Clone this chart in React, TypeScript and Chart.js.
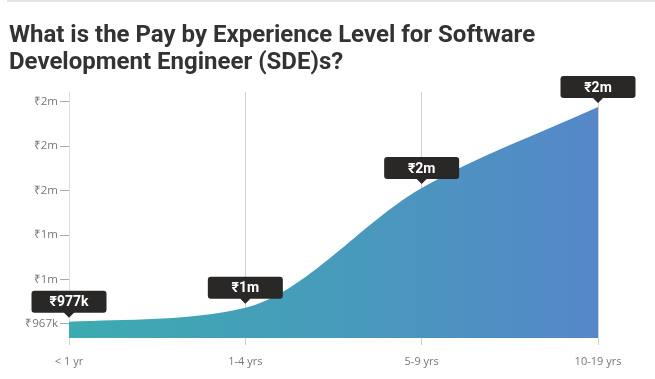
import React, { useEffect, useRef } from "react";
import { Chart, registerables } from "chart.js";

Chart.register(...registerables);

const categories = ["< 1 yr", "1-4 yrs", "5-9 yrs", "10-19 yrs"];
const pay = [977000, 1040000, 1578000, 1942000];
const pointLabels = ["₹977k", "₹1m", "₹2m", "₹2m"];
const yTickValues = [967000, 1167000, 1367000, 1567000, 1767000, 1967000];
const yTickLabels = ["₹967k", "₹1m", "₹1m", "₹2m", "₹2m", "₹2m"];
const yMin = 904000;
const yMax = 2010000;

const labelPlugin = {
  id: "pointLabels",
  afterDraw(chart: any) {
    const ctx = chart.ctx;
    const meta = chart.getDatasetMeta(0);
    ctx.save();
    meta.data.forEach((pt: any, i: number) => {
      const x = pt.x;
      const y = pt.y;
      const w = 75;
      const h = 22;
      const caret = 5;
      const bottom = y - 4 - caret;
      const top = bottom - h;
      const left = x - w / 2;
      const r = 3;
      ctx.fillStyle = "#2a2727";
      ctx.beginPath();
      ctx.moveTo(left + r, top);
      ctx.lineTo(left + w - r, top);
      ctx.quadraticCurveTo(left + w, top, left + w, top + r);
      ctx.lineTo(left + w, bottom - r);
      ctx.quadraticCurveTo(left + w, bottom, left + w - r, bottom);
      ctx.lineTo(x + caret, bottom);
      ctx.lineTo(x, bottom + caret);
      ctx.lineTo(x - caret, bottom);
      ctx.lineTo(left + r, bottom);
      ctx.quadraticCurveTo(left, bottom, left, bottom - r);
      ctx.lineTo(left, top + r);
      ctx.quadraticCurveTo(left, top, left + r, top);
      ctx.closePath();
      ctx.fill();
      ctx.fillStyle = "#ffffff";
      ctx.font = "bold 14px Roboto, 'Noto Sans', sans-serif";
      ctx.textAlign = "center";
      ctx.textBaseline = "middle";
      ctx.fillText(pointLabels[i], x, top + h / 2 + 1);
    });
    ctx.restore();
  },
};

export default function App() {
  const ref = useRef<HTMLCanvasElement>(null);
  useEffect(() => {
    const canvas = ref.current!;
    const chart = new Chart(canvas, {
      type: "line",
      data: {
        labels: categories,
        datasets: [
          {
            data: pay,
            fill: "start",
            borderWidth: 0,
            borderColor: "rgba(0,0,0,0)",
            pointRadius: 0,
            cubicInterpolationMode: "monotone",
            backgroundColor: (c: any) => {
              const area = c.chart.chartArea;
              if (!area) return "#479bbb";
              const g = c.chart.ctx.createLinearGradient(area.left, 0, area.right, 0);
              g.addColorStop(0, "#3cabb0");
              g.addColorStop(0.5, "#479bbb");
              g.addColorStop(1, "#5587c9");
              return g;
            },
          },
        ],
      },
      options: {
        animation: false,
        responsive: false,
        maintainAspectRatio: false,
        layout: { padding: { top: 92, right: 57, left: 0, bottom: 0 } },
        plugins: { legend: { display: false }, tooltip: { enabled: false } },
        scales: {
          x: {
            offset: false,
            z: 1,
            grid: {
              display: true,
              drawOnChartArea: true,
              color: "rgba(0,0,0,0.18)",
              tickLength: 7,
              lineWidth: 1,
            },
            border: { display: false },
            ticks: {
              color: "#777777",
              font: { family: "'Open Sans', sans-serif", size: 11 },
              padding: 10,
              maxRotation: 0,
            },
            afterFit: (s: any) => {
              s.height = 41;
            },
          },
          y: {
            min: yMin,
            max: yMax,
            grid: {
              display: true,
              drawOnChartArea: false,
              color: "#aaaaaa",
              tickLength: 9,
            },
            border: { display: true, color: "#dddddd" },
            afterBuildTicks: (s: any) => {
              s.ticks = yTickValues.map((v) => ({ value: v }));
            },
            ticks: {
              color: "#777777",
              font: { family: "'Open Sans', sans-serif", size: 11.5 },
              padding: 2,
              callback: (_v: any, i: number) => yTickLabels[i],
            },
            afterFit: (s: any) => {
              s.width = 69;
            },
          },
        },
      },
      plugins: [labelPlugin],
    } as any);
    return () => chart.destroy();
  }, []);

  return (
    <div style={{ position: "absolute", left: 0, top: 0, width: 655, height: 379, background: "#fff", overflow: "hidden" }}>
      <div style={{ position: "absolute", left: 7, right: 0, top: 0, height: 0, borderTop: "2px solid #e4e4e4" }} />
      <canvas ref={ref} width={655} height={379} style={{ position: "absolute", left: 0, top: 0 }} />
      <div
        style={{
          position: "absolute",
          left: 9,
          top: 21,
          width: 640,
          fontFamily: "Roboto, sans-serif",
          fontWeight: 700,
          fontSize: 24,
          lineHeight: "27px",
          color: "#333333",
        }}
      >
        What is the Pay by Experience Level for Software
        <br />
        Development Engineer (SDE)s?
      </div>
    </div>
  );
}
